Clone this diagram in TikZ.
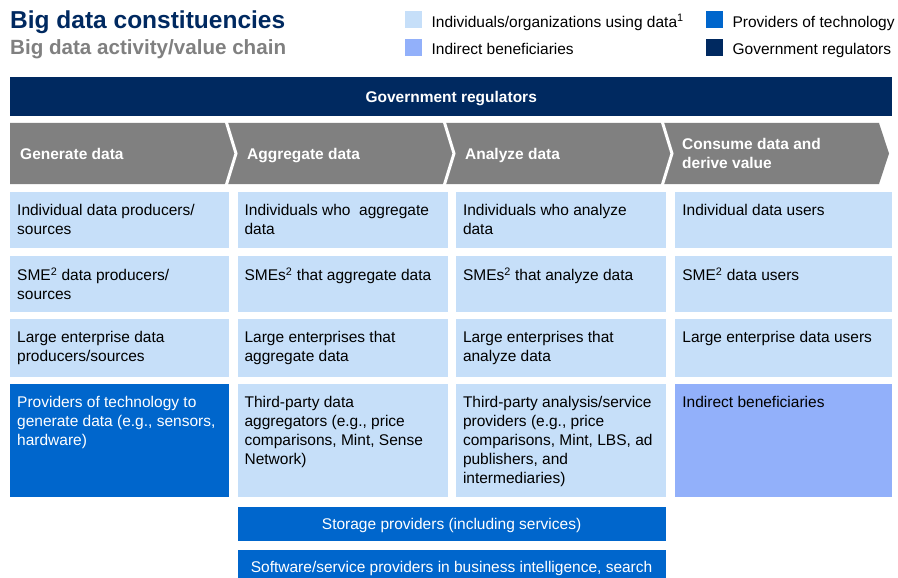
\documentclass[tikz,border=0pt]{standalone}
\usepackage{fontspec}
\setmainfont{Liberation Sans}
\usetikzlibrary{positioning}
\definecolor{govnavy}{HTML}{002960}
\definecolor{userblue}{HTML}{C6DFF9}
\definecolor{indirblue}{HTML}{92B0FA}
\definecolor{techblue}{HTML}{0066CC}
\definecolor{stepgray}{HTML}{808080}

\begin{document}
\begin{tikzpicture}[x=1pt,y=-1pt,font=\fontsize{15.5}{19}\selectfont,
  cell/.style={minimum height=56pt,inner sep=0pt,anchor=north west},
  usr/.style={cell,fill=userblue}, tech/.style={cell,fill=techblue}, ind/.style={cell,fill=indirblue},
  txt/.style={anchor=north west,align=left,inner xsep=7pt,inner ysep=12pt,text=black},
  wtxt/.style={txt,text=white},
  head/.style={anchor=base west,align=left,inner sep=0pt,text=white,font=\fontsize{15.5}{19}\selectfont\bfseries},
  bar/.style={fill=techblue,text=white,inner sep=0pt,text depth=0pt,minimum height=34pt,minimum width=428pt},
  key/.style={minimum size=17pt,inner sep=0pt,anchor=north west},
  keytxt/.style={anchor=base west,inner sep=0pt,yshift=1.3pt}]
  \useasboundingbox (0,0) rectangle (898,578);
  \clip (0,0) rectangle (898,578);
  \node[anchor=base west,inner sep=0pt,text=govnavy,font=\fontsize{24.5}{28}\selectfont\bfseries](title) at (10,28.3){Big data constituencies};
  \node[anchor=base west,inner sep=0pt,text=stepgray,font=\fontsize{20.6}{24}\selectfont\bfseries](subtitle) at (10,55){Big data activity/value chain};
  % legend
  \node[key,fill=userblue](k1) at (405,11){};
  \node[key,fill=indirblue,below=10pt of k1](k2){};
  \node[key,fill=techblue](k3) at (706,11){};
  \node[key,fill=govnavy,below=10pt of k3](k4){};
  \node[keytxt,right=9pt of k1.south east,anchor=base west](k1t){Individuals/organizations using data\textsuperscript{1}};
  \node[keytxt,right=9pt of k2.south east,anchor=base west](k2t){Indirect beneficiaries};
  \node[keytxt,right=9pt of k3.south east,anchor=base west](k3t){Providers of technology};
  \node[keytxt,right=9pt of k4.south east,anchor=base west](k4t){Government regulators};
  \node[fill=govnavy,anchor=north west,minimum width=882pt,minimum height=39pt,inner sep=0pt,text depth=0pt,text=white,font=\fontsize{15.5}{19}\selectfont\bfseries](gov) at (10,77){Government regulators};
  % chevron band, cut into four steps by white notches
  \fill[stepgray] (10,123) -- (879,123) -- (889,153.5) -- (879,184) -- (10,184) -- cycle;
  \foreach \sx in {226,444,662}
    \draw[white,line width=3pt] (\sx,121) -- (\sx+10,153.5) -- (\sx,186);
  \node[head](hgen) at (20,159){Generate data};
  \node[head](hagg) at (247,159){Aggregate data};
  \node[head](hana) at (465,159){Analyze data};
  \node[head](hcon) at (682,168){Consume data and\\derive value};
  % grid of constituencies
  \node[usr,minimum width=219pt,label={[txt]north west:Individual data producers/\\sources}](gen1) at (10,192){};
  \node[usr,minimum width=219pt,below=7pt of gen1,label={[txt]north west:SME\textsuperscript{2} data producers/\\sources}](gen2){};
  \node[usr,minimum width=219pt,minimum height=58pt,below=7pt of gen2,label={[txt]north west:Large enterprise data\\producers/sources}](gen3){};
  \node[tech,minimum width=219pt,minimum height=113pt,below=7pt of gen3,label={[wtxt]north west:Providers of technology to\\generate data (e.g., sensors,\\hardware)}](gen4){};
  \node[usr,minimum width=210pt,right=8pt of gen1,label={[txt]north west:Individuals who \ aggregate\\data}](agg1){};
  \node[usr,minimum width=210pt,below=7pt of agg1,label={[txt]north west:SMEs\textsuperscript{2} that aggregate data}](agg2){};
  \node[usr,minimum width=210pt,minimum height=58pt,below=7pt of agg2,label={[txt]north west:Large enterprises that\\aggregate data}](agg3){};
  \node[usr,minimum width=210pt,minimum height=113pt,below=7pt of agg3,label={[txt]north west:Third-party data\\aggregators (e.g., price\\comparisons, Mint, Sense\\Network)}](agg4){};
  \node[usr,minimum width=210pt,right=8pt of agg1,label={[txt]north west:Individuals who analyze\\data}](ana1){};
  \node[usr,minimum width=210pt,below=7pt of ana1,label={[txt]north west:SMEs\textsuperscript{2} that analyze data}](ana2){};
  \node[usr,minimum width=210pt,minimum height=58pt,below=7pt of ana2,label={[txt]north west:Large enterprises that\\analyze data}](ana3){};
  \node[usr,minimum width=210pt,minimum height=113pt,below=7pt of ana3,label={[txt]north west:Third-party analysis/service\\providers (e.g., price\\comparisons, Mint, LBS, ad\\publishers, and\\intermediaries)}](ana4){};
  \node[usr,minimum width=217pt,right=9pt of ana1,label={[txt]north west:Individual data users}](con1){};
  \node[usr,minimum width=217pt,below=7pt of con1,label={[txt]north west:SME\textsuperscript{2} data users}](con2){};
  \node[usr,minimum width=217pt,minimum height=58pt,below=7pt of con2,label={[txt]north west:Large enterprise data users}](con3){};
  \node[ind,minimum width=217pt,minimum height=113pt,below=7pt of con3,label={[txt]north west:Indirect beneficiaries}](con4){};
  % providers spanning aggregate + analyze
  \node[bar,below=9pt of agg4.south west,anchor=north west](stor){Storage providers (including services)};
  \node[bar,below=9pt of stor.south west,anchor=north west](soft){Software/service providers in business intelligence, search};
\end{tikzpicture}
\end{document}
